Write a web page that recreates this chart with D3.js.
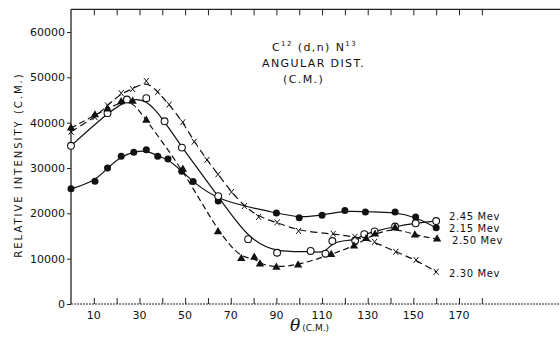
<!DOCTYPE html>
<html>
<head>
<meta charset="utf-8">
<script src="https://cdn.jsdelivr.net/npm/d3@7"></script>
<style>
  body { margin: 0; background: #fff; }
  svg { display: block; }
  text { font-family: "DejaVu Sans", sans-serif; fill: #111; }
</style>
</head>
<body>
<svg id="chart"></svg>
<script>
// angles (deg, C.M.) and relative intensities
const theta215 = [0, 10.5, 16, 22, 27.5, 33, 38, 42.5, 48.5, 53.5, 64.5, 90, 100, 110, 120, 129, 142, 151, 160];
const val215 = [25400, 27100, 30000, 32600, 33500, 34000, 32600, 32000, 29300, 27000, 22700, 20100, 19000, 19600, 20600, 20300, 20300, 19200, 16800];

const theta245 = [0, 16, 24.5, 33, 41, 48.6, 64.5, 77.6, 90.3, 105, 111.5, 114.5, 124.5, 128.5, 133, 142, 151, 160];
const val245 = [34900, 42100, 45100, 45400, 40300, 34500, 23800, 14300, 11300, 11700, 11100, 13900, 14000, 15400, 16000, 17100, 17800, 18300];

const theta250 = [0, 10.5, 16, 22, 27, 33, 49, 64.4, 74.6, 80.3, 82.8, 90, 99.5, 114, 124, 129.3, 133.2, 142, 150.7, 160.4];
const val250 = [38800, 41700, 43000, 44600, 44700, 40500, 29700, 15900, 10000, 10300, 8800, 8100, 8600, 10900, 12800, 14400, 15400, 16800, 15200, 14300];

const theta230 = [0, 10.5, 16, 22, 27, 33, 38, 43, 49, 54, 59.6, 64.4, 70.3, 76, 82.2, 90.3, 99.7, 114.9, 124.4, 133, 142.3, 151.2, 160];
const val230 = [38000, 41200, 43800, 46500, 47400, 49200, 46800, 44000, 40100, 35800, 31800, 28600, 24700, 21600, 19200, 18000, 16100, 15500, 14800, 13700, 11500, 9700, 7100];

const yTicks = [0, 10000, 20000, 30000, 40000, 50000, 60000];
const xTickLabels = [10, 30, 50, 70, 90, 110, 130, 150, 170];
const xTickMarks = d3.range(10, 181, 10);

const seriesLabels = ['2.45 Mev', '2.15 Mev', '2.50 Mev', '2.30 Mev'];

const width = 560;
const height = 337;

const svg = d3.select('#chart').attr('width', width).attr('height', height);

const x = d3.scaleLinear().domain([0, 170]).range([71, 459]);
const y = d3.scaleLinear().domain([0, 60000]).range([304, 32]);

const yTop = y(65000);

// frame: left axis, top line, bottom line
const frame = svg.append('g').attr('stroke', '#222').attr('fill', 'none');
frame.append('line').attr('x1', x(0)).attr('x2', x(0)).attr('y1', yTop).attr('y2', y(0)).attr('stroke-width', 1.3);
frame.append('line').attr('x1', x(0)).attr('x2', width).attr('y1', yTop).attr('y2', yTop).attr('stroke-width', 1.1);
frame.append('line').attr('x1', x(0)).attr('x2', width).attr('y1', y(0)).attr('y2', y(0))
  .attr('stroke-width', 1).attr('stroke-dasharray', '2,1');

// y axis ticks (outward) and labels
const yAxis = svg.append('g').attr('transform', `translate(${x(0)},0)`)
  .call(d3.axisLeft(y).tickValues(yTicks).tickSize(4).tickPadding(2).tickFormat(d3.format('d')));
yAxis.select('.domain').remove();
yAxis.selectAll('line').attr('stroke', '#222');
yAxis.selectAll('text').style('font-size', '11px').style('font-family', '"DejaVu Sans", sans-serif').attr('fill', '#222');

// bottom ticks (inward) and labels
const xAxis = svg.append('g').attr('transform', `translate(0,${y(0)})`)
  .call(d3.axisBottom(x).tickValues(xTickMarks).tickSize(-6).tickFormat(''));
xAxis.select('.domain').remove();
xAxis.selectAll('line').attr('stroke', '#222');

svg.append('g').selectAll('text').data(xTickLabels).enter().append('text')
  .attr('x', (d) => x(d))
  .attr('y', 319)
  .attr('text-anchor', 'middle')
  .style('font-size', '11px')
  .text((d) => d);

// top ticks (inward)
const topAxis = svg.append('g').attr('transform', `translate(0,${yTop})`)
  .call(d3.axisTop(x).tickValues(xTickMarks).tickSize(-6).tickFormat(''));
topAxis.select('.domain').remove();
topAxis.selectAll('line').attr('stroke', '#222');

// axis titles
svg.append('text')
  .attr('transform', 'translate(22,165) rotate(-90)')
  .attr('text-anchor', 'middle')
  .style('font-size', '10px')
  .style('letter-spacing', '2px')
  .text('RELATIVE INTENSITY (C.M.)');

const xt = svg.append('text').attr('x', 290).attr('y', 331);
xt.append('tspan').style('font-size', '17px').style('font-style', 'italic').style('font-family', '"DejaVu Serif", serif').text('θ');
xt.append('tspan').attr('dx', 2).style('font-size', '9px').text('(C.M.)');

// chart title
const title = svg.append('g').style('font-size', '11px').style('letter-spacing', '1.4px');
const t1 = title.append('text').attr('x', 272).attr('y', 51);
t1.append('tspan').text('C');
t1.append('tspan').attr('dy', -5).style('font-size', '7px').text('12');
t1.append('tspan').attr('dy', 5).text(' (d,n) N');
t1.append('tspan').attr('dy', -5).style('font-size', '7px').text('13');
title.append('text').attr('x', 262).attr('y', 67).text('ANGULAR DIST.');
title.append('text').attr('x', 283).attr('y', 83).text('(C.M.)');

// curves
const line = d3.line().x((d) => x(d[0])).y((d) => y(d[1])).curve(d3.curveBasis);
const pts = (t, v) => t.map((d, i) => [d, v[i]]);

const s215 = pts(theta215, val215);
const s245 = pts(theta245, val245);
const s250 = pts(theta250, val250);
const s230 = pts(theta230, val230);

const curves = svg.append('g').attr('fill', 'none').attr('stroke', '#111').attr('stroke-width', 1.2);
curves.append('path').attr('d', line(s215));
curves.append('path').attr('d', line(s245));
curves.append('path').attr('d', line(s250)).attr('stroke-dasharray', '6,3.5');
curves.append('path').attr('d', line(s230)).attr('stroke-dasharray', '7,4');

// markers
const marks = svg.append('g');
marks.selectAll('circle.filled').data(s215).enter().append('circle')
  .attr('class', 'filled')
  .attr('cx', (d) => x(d[0])).attr('cy', (d) => y(d[1])).attr('r', 3.5)
  .attr('fill', '#111');

marks.selectAll('circle.open').data(s245).enter().append('circle')
  .attr('class', 'open')
  .attr('cx', (d) => x(d[0])).attr('cy', (d) => y(d[1])).attr('r', 3.4)
  .attr('fill', '#fff').attr('stroke', '#111').attr('stroke-width', 1.1);

const tri = d3.symbol().type(d3.symbolTriangle).size(30);
marks.selectAll('path.tri').data(s250).enter().append('path')
  .attr('class', 'tri')
  .attr('transform', (d) => `translate(${x(d[0])},${y(d[1])})`)
  .attr('d', tri)
  .attr('fill', '#111');

marks.selectAll('path.cross').data(s230).enter().append('path')
  .attr('class', 'cross')
  .attr('transform', (d) => `translate(${x(d[0])},${y(d[1])})`)
  .attr('d', 'M-2.5,-3L2.5,3M2.5,-3L-2.5,3')
  .attr('stroke', '#111').attr('stroke-width', 1).attr('fill', 'none');

// series labels
const labelY = [216, 228, 240, 273];
const labelX = [449, 449, 452, 449];
svg.append('g').selectAll('text').data(seriesLabels).enter().append('text')
  .attr('x', (d, i) => labelX[i])
  .attr('y', (d, i) => labelY[i] + 3.5)
  .style('font-size', '10px')
  .style('letter-spacing', '0.6px')
  .text((d) => d);
</script>
</body>
</html>
